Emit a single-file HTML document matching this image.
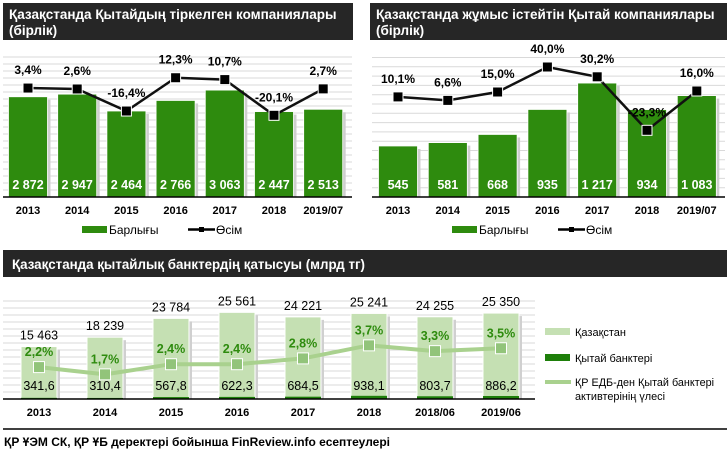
<!DOCTYPE html>
<html><head><meta charset="utf-8"><style>
body{margin:0;background:#fff;width:727px;height:451px;overflow:hidden}
svg{display:block;font-family:"Liberation Sans",Arial,sans-serif}
</style></head><body>
<svg id="s" width="727" height="451" viewBox="0 0 727 451">
<rect x="3" y="3" width="350" height="37" fill="#262626"/>
<text x="9" y="19" fill="#fff" font-size="13.5" font-weight="bold">Қазақстанда Қытайдың тіркелген компаниялары<tspan x="9" y="35">(бірлік)</tspan></text>
<rect x="370" y="3" width="357" height="37" fill="#262626"/>
<text x="376" y="19" fill="#fff" font-size="13.5" font-weight="bold">Қазақстанда жұмыс істейтін Қытай компаниялары<tspan x="376" y="35">(бірлік)</tspan></text>
<rect x="3" y="250" width="724" height="27" fill="#262626"/>
<text x="12" y="269" fill="#fff" font-size="14" font-weight="bold" textLength="353" lengthAdjust="spacingAndGlyphs">Қазақстанда қытайлық банктердің қатысуы (млрд  тг)</text>
<g id="c1"></g><g id="c2"></g><g id="c3"></g>
<line x1="3" y1="429" x2="727" y2="429" stroke="#000" stroke-width="1.5"/>
<text x="4" y="446" font-size="12" font-weight="bold" textLength="386" lengthAdjust="spacingAndGlyphs">ҚР ҰЭМ СК,  ҚР ҰБ деректері бойынша  FinReview.info  есептеулері</text>
</svg>
<script>
const years1=["2013","2014","2015","2016","2017","2018","2019/07"];
const regValues=[2872,2947,2464,2766,3063,2447,2513];
const regLabels=["2 872","2 947","2 464","2 766","3 063","2 447","2 513"];
const regGrowth=[3.4,2.6,-16.4,12.3,10.7,-20.1,2.7];
const opValues=[545,581,668,935,1217,934,1083];
const opLabels=["545","581","668","935","1 217","934","1 083"];
const opGrowth=[10.1,6.6,15.0,40.0,30.2,-23.3,16.0];
const years3=["2013","2014","2015","2016","2017","2018","2018/06","2019/06"];
const kzAssets=[15463,18239,23784,25561,24221,25241,24255,25350];
const kzLabels=["15 463","18 239","23 784","25 561","24 221","25 241","24 255","25 350"];
const cnAssets=[341.6,310.4,567.8,622.3,684.5,938.1,803.7,886.2];
const cnShare=[2.2,1.7,2.4,2.4,2.8,3.7,3.3,3.5];
const NS="http://www.w3.org/2000/svg";
function mk(p,t,a,txt){const e=document.createElementNS(NS,t);for(const k in a)e.setAttribute(k,a[k]);if(txt!==undefined)e.textContent=txt;p.appendChild(e);return e;}
const fmt=v=>v.toFixed(1).replace('.',',');

function barChart(g,o,vals,labs,gr){
  const base=197,x0=o.x0,step=o.step,bw=39;
  const yv=v=>base-v/o.per, yg=v=>o.z-v*o.pp, cx=i=>x0+i*step;
  for(let y=base-o.gs;y>=57;y-=o.gs){const l=mk(g,'line',{x1:o.gx1,x2:o.gx2,y1:y,y2:y,stroke:'#d9d9d9','stroke-width':1});

}
  vals.forEach((v,i)=>{
    mk(g,'rect',{x:cx(i)-bw/2+3,y:yv(v)+3,width:bw,height:base-yv(v)-3,fill:'#cfcfcf'});
    const r=mk(g,'rect',{x:cx(i)-bw/2,y:yv(v),width:bw,height:base-yv(v),fill:'#2e8b0e',stroke:'#fff','stroke-width':0.8});


    const t=mk(g,'text',{x:cx(i),y:189,'text-anchor':'middle',fill:'#fff','font-size':12.5,'font-weight':'bold'},labs[i]);


    const yl=mk(g,'text',{x:cx(i),y:214,'text-anchor':'middle','font-size':11,'font-weight':'bold'},years1[i]);


  });
  const bl=mk(g,'line',{x1:o.gx1,x2:o.gx2,y1:base,y2:base,stroke:'#000','stroke-width':1.5});


  const pl=mk(g,'polyline',{points:gr.map((v,i)=>cx(i)+','+yg(v)).join(' '),fill:'none',stroke:'#111','stroke-width':2.5});


  gr.forEach((v,i)=>{
    const m=mk(g,'rect',{x:cx(i)-5,y:yg(v)-5,width:10,height:10,fill:'#000',stroke:'#fff','stroke-width':1});


    const t=mk(g,'text',{x:cx(i),y:yg(v)-14,'text-anchor':'middle','font-size':12,'font-weight':'bold'},fmt(v)+'%');


  });
  const lx=o.lx;
  const s=mk(g,'rect',{x:lx,y:226,width:25,height:7,fill:'#2e8b0e'});


  const lt=mk(g,'text',{x:lx+27,y:234,'font-size':12},'Барлығы');


  mk(g,'line',{x1:lx+106,x2:lx+133,y1:229.5,y2:229.5,stroke:'#000','stroke-width':2.5});
  mk(g,'rect',{x:lx+117,y:227,width:5,height:5,fill:'#000'});
  const lg=mk(g,'text',{x:lx+134,y:234,'font-size':12},'Өсім');


}
barChart(document.getElementById('c1'),{x0:28,step:49.2,per:28.65,z:92,pp:1.16,gs:7,gx1:3,gx2:352,lx:82},regValues,regLabels,regGrowth);
barChart(document.getElementById('c2'),{x0:398,step:49.8,per:10.68,z:107,pp:1.0,gs:9.3,gx1:372,gx2:725,lx:452},opValues,opLabels,opGrowth);

(function(){
  const g=document.getElementById('c3');const base=399,x0=39,step=66,bw=36;
  const yv=v=>base-v/295, yg=v=>base-v*14.5, cx=i=>x0+i*step;
  for(let y=base-7;y>=295;y-=7){const l=mk(g,'line',{x1:3,x2:535,y1:y,y2:y,stroke:'#d9d9d9','stroke-width':1});

}
  kzAssets.forEach((v,i)=>{
    mk(g,'rect',{x:cx(i)-bw/2+3,y:yv(v)+3,width:bw,height:base-yv(v)-3,fill:'#d0d0d0'});
    const r=mk(g,'rect',{x:cx(i)-bw/2,y:yv(v),width:bw,height:base-yv(v),fill:'#c5e0b3',stroke:'#fff','stroke-width':1});


    const c=mk(g,'rect',{x:cx(i)-bw/2,y:yv(cnAssets[i]),width:bw,height:base-yv(cnAssets[i]),fill:'#1e7f0a'});


    const t=mk(g,'text',{x:cx(i),y:yv(v)-7,'text-anchor':'middle','font-size':12.5},kzLabels[i]);


    const t2=mk(g,'text',{x:cx(i),y:390,'text-anchor':'middle','font-size':12.5},fmt(cnAssets[i]));


    const yl=mk(g,'text',{x:cx(i),y:416,'text-anchor':'middle','font-size':11,'font-weight':'bold'},years3[i]);


  });
  const bl=mk(g,'line',{x1:3,x2:535,y1:base,y2:base,stroke:'#000','stroke-width':1.5});


  const pl=mk(g,'polyline',{points:cnShare.map((v,i)=>cx(i)+','+yg(v)).join(' '),fill:'none',stroke:'#a9d18e','stroke-width':4});


  cnShare.forEach((v,i)=>{
    const m=mk(g,'rect',{x:cx(i)-5.5,y:yg(v)-5.5,width:11,height:11,fill:'#92c47a',stroke:'#fff','stroke-width':1});


    const t=mk(g,'text',{x:cx(i),y:yg(v)-11,'text-anchor':'middle','font-size':12.5,fill:'#2e8b0e','font-weight':'bold'},fmt(v)+'%');


  });
  const a=mk(g,'rect',{x:545,y:328,width:25,height:7,fill:'#c5e0b3'});


  const at=mk(g,'text',{x:575,y:336,'font-size':11},'Қазақстан');


  const b=mk(g,'rect',{x:545,y:354,width:25,height:7,fill:'#1e7f0a'});


  const bt=mk(g,'text',{x:575,y:362,'font-size':11},'Қытай банктері');


  mk(g,'line',{x1:545,x2:571,y1:382,y2:382,stroke:'#a9d18e','stroke-width':4});
  const ct=mk(g,'text',{x:575,y:386,'font-size':11,textLength:139,lengthAdjust:'spacingAndGlyphs'},'ҚР ЕДБ-ден Қытай банктері');


  mk(g,'text',{x:575,y:400,'font-size':11,textLength:90,lengthAdjust:'spacingAndGlyphs'},'активтерінің үлесі');
})();
</script>
</body></html>
